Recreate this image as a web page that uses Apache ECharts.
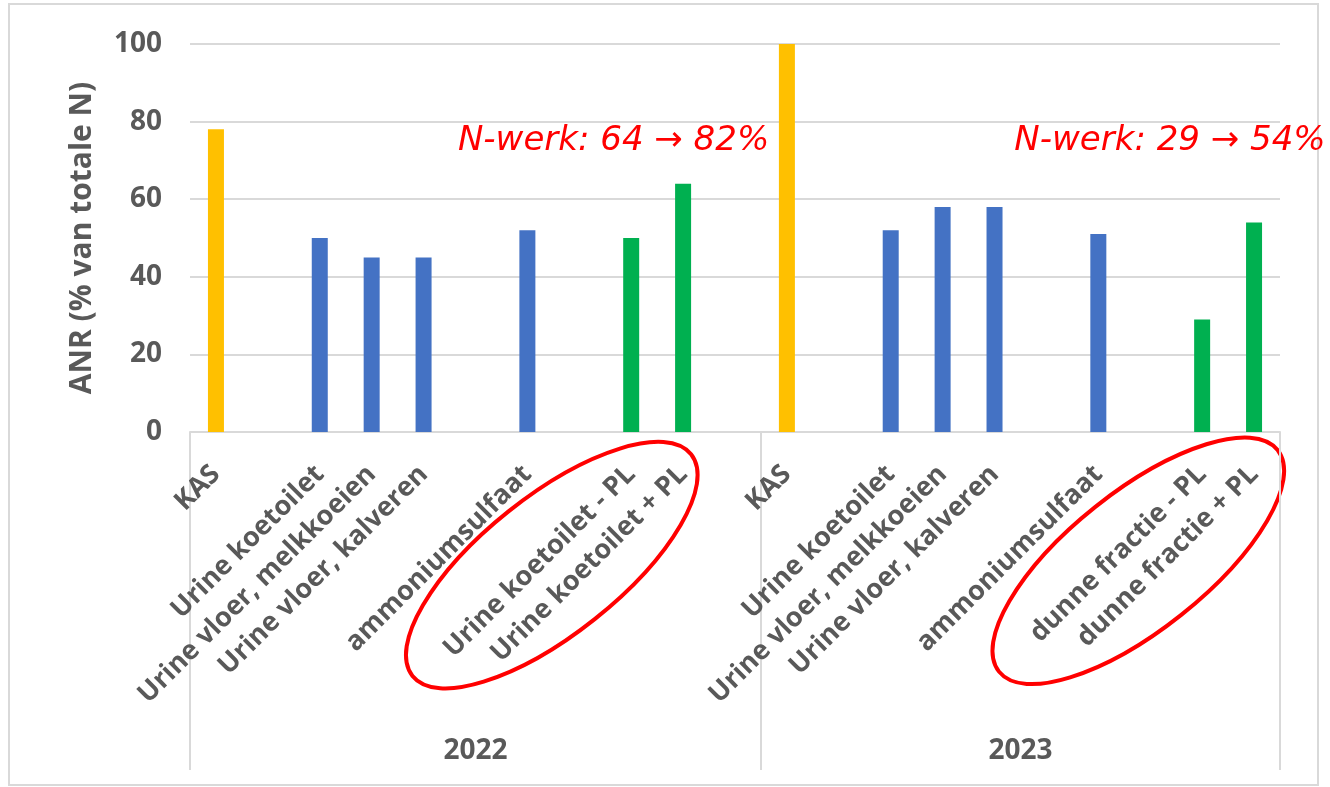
<!DOCTYPE html>
<html>
<head>
<meta charset="utf-8">
<script src="https://cdn.jsdelivr.net/npm/echarts@6/dist/echarts.min.js"></script>
<style>
html, body { margin:0; padding:0; background:#fff; }
#frame { position:absolute; left:8px; top:3px; width:1311px; height:783px; border:2px solid #d9d9d9; box-sizing:border-box; }
#chart { position:absolute; left:0; top:0; width:1330px; height:787px; }
</style>
</head>
<body>
<div id="frame"></div>
<div id="chart"></div>
<script>
// categories per slot, '' = lege kolom (zoals in de excel grafiek)
var categories = ['KAS', '', 'Urine koetoilet', 'Urine vloer, melkkoeien', 'Urine vloer, kalveren', '', 'ammoniumsulfaat', '', 'Urine koetoilet - PL', 'Urine koetoilet + PL', '',
	'KAS', '', 'Urine koetoilet', 'Urine vloer, melkkoeien', 'Urine vloer, kalveren', '', 'ammoniumsulfaat', '', 'dunne fractie - PL', 'dunne fractie + PL'];
var anr = [78, null, 50, 45, 45, null, 52, null, 50, 64, null,
	100, null, 52, 58, 58, null, 51, null, 29, 54];
var kind = ['kas', '', 'urine', 'urine', 'urine', '', 'urine', '', 'pl', 'pl', '',
	'kas', '', 'urine', 'urine', 'urine', '', 'urine', '', 'pl', 'pl'];
var colors = { kas: '#FFC000', urine: '#4472C4', pl: '#00B050' };

var years = ['2022', '2023'];
var yearBounds = [0, 11, 21];
var yearCenters = [5.5, 16];

var notes = ['N-werk: 64 \u2192 82%', 'N-werk: 29 \u2192 54%'];
var noteX = [8.16, 18.88];
var noteY = [75, 75];
var ringX = [6.97, 18.27];
var ringY = [-34.3, -33.2];

var grey = '#595959';
var font = '"Open Sans", "Noto Sans", sans-serif';

var chart = echarts.init(document.getElementById('chart'));

var options = {
	animation: false,
	grid: { left: 190, right: 50, top: 44, bottom: 355, containLabel: false },
	xAxis: [
		{
			type: 'category',
			data: categories,
			boundaryGap: true,
			axisLine: { lineStyle: { color: '#d9d9d9', width: 2 } },
			axisTick: { show: false },
			axisLabel: {
				interval: 0, rotate: 45, margin: 38,
				color: grey, fontSize: 27, fontWeight: 'bold', fontFamily: font
			}
		},
		{
			type: 'value',
			position: 'bottom',
			min: 0, max: 21,
			axisLine: { show: false },
			splitLine: { show: false },
			axisTick: {
				show: true, inside: false, length: 338,
				customValues: yearBounds,
				lineStyle: { color: '#d9d9d9', width: 2 }
			},
			axisLabel: {
				customValues: yearCenters, margin: 305,
				color: grey, fontSize: 28, fontWeight: 'bold', fontFamily: font,
				formatter: function (v) { return years[yearCenters.indexOf(v)]; }
			}
		}
	],
	yAxis: {
		type: 'value',
		min: 0, max: 100, interval: 20,
		name: 'ANR (% van totale N)',
		nameLocation: 'middle',
		nameRotate: 90,
		nameGap: 93,
		nameTextStyle: { color: grey, fontSize: 30, fontWeight: 'bold', fontFamily: font },
		axisLine: { show: false },
		axisTick: { show: false },
		splitLine: { lineStyle: { color: '#d9d9d9', width: 2 } },
		axisLabel: { margin: 28, color: grey, fontSize: 28, fontWeight: 'bold', fontFamily: font }
	},
	series: [
		{
			name: 'ANR',
			type: 'bar',
			xAxisIndex: 0,
			barWidth: 16,
			data: anr.map(function (v, i) {
				return { value: v, itemStyle: { color: colors[kind[i]] || '#000' } };
			})
		}
	]
};
chart.setOption(options);

// annotaties: tekst en rode ovalen, geplaatst via de assen
var graphics = [];
for (var i = 0; i < notes.length; i++) {
	graphics.push({
		type: 'text',
		x: chart.convertToPixel({ xAxisIndex: 1 }, noteX[i]),
		y: chart.convertToPixel({ yAxisIndex: 0 }, noteY[i]),
		style: {
			text: notes[i], fill: '#FF0000', fontSize: 34, fontStyle: 'italic',
			fontFamily: '"DejaVu Sans", Verdana, sans-serif',
			align: 'center', verticalAlign: 'middle'
		}
	});
	graphics.push({
		type: 'ellipse',
		x: chart.convertToPixel({ xAxisIndex: 1 }, ringX[i]),
		y: chart.convertToPixel({ yAxisIndex: 0 }, ringY[i]),
		rotation: 38.5 * Math.PI / 180,
		shape: { cx: 0, cy: 0, rx: 178, ry: 69 },
		style: { fill: 'none', stroke: '#FF0000', lineWidth: 4 }
	});
}
chart.setOption({ graphic: graphics });
</script>
</body>
</html>
